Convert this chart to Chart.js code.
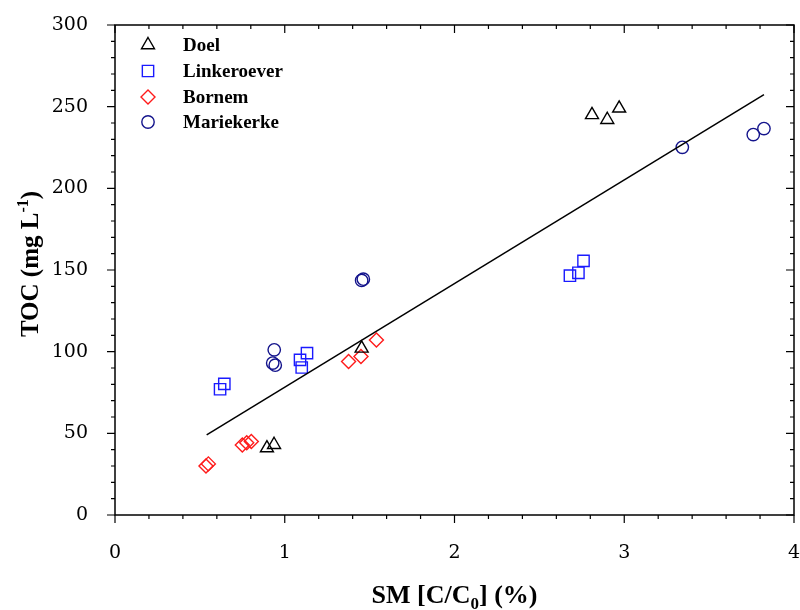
<!DOCTYPE html>
<html>
<head>
<meta charset="utf-8">
<script src="https://cdn.jsdelivr.net/npm/chart.js@4.4.1/dist/chart.umd.min.js"></script>
<style>
  html, body { margin: 0; padding: 0; background: #fff; }
  canvas { display: block; }
</style>
</head>
<body>
<canvas id="chart" width="800" height="610"></canvas>
<script>
// Site names
const seriesNames = ['Doel', 'Linkeroever', 'Bornem', 'Mariekerke'];

// SM [C/C0] (%) and TOC (mg/L) per site
const doelSM = [0.895, 0.937, 1.453, 2.81, 2.90, 2.97];
const doelTOC = [41, 43, 102, 245, 242, 249];

const linkeroeverSM = [0.619, 0.644, 1.09, 1.10, 1.131, 2.68, 2.73, 2.76];
const linkeroeverTOC = [77, 80.3, 95, 90.3, 99.1, 146.5, 148.3, 155.6];

const bornemSM = [0.536, 0.55, 0.75, 0.776, 0.803, 1.376, 1.449, 1.54];
const bornemTOC = [30, 31.3, 42.8, 44.2, 45, 94, 97, 107.2];

const mariekerkeSM = [0.938, 0.929, 0.944, 1.453, 1.463, 3.342, 3.76, 3.823];
const mariekerkeTOC = [101.1, 93, 91.7, 143.6, 144.4, 225.1, 232.9, 236.6];

// Linear fit, drawn between its two end points
const fitSM = [0.54, 3.823];
const fitTOC = [49.0, 257.4];

// Axis ticks
const xTicks = [0, 1, 2, 3, 4];
const yTicks = [0, 50, 100, 150, 200, 250, 300];
const xMinorStep = 0.2;
const yMinorStep = 10;

// Plot frame edges on the canvas
const frameBox = { left: 115, right: 794, top: 25, bottom: 515 };

const pts = (xs, ys) => xs.map((x, i) => ({ x: x, y: ys[i] }));

const markerStyles = [
  { pointStyle: 'triangle', radius: 7.5, color: '#000000' },
  { pointStyle: 'rect', radius: 8, color: '#1a1aff' },
  { pointStyle: 'rectRot', radius: 7, color: '#ff1a1a' },
  { pointStyle: 'circle', radius: 6.2, color: '#14148c' }
];
const seriesData = [
  pts(doelSM, doelTOC),
  pts(linkeroeverSM, linkeroeverTOC),
  pts(bornemSM, bornemTOC),
  pts(mariekerkeSM, mariekerkeTOC)
];

const datasets = seriesNames.map((name, i) => ({
  label: name,
  data: seriesData[i],
  pointStyle: markerStyles[i].pointStyle,
  pointRadius: markerStyles[i].radius,
  pointHoverRadius: markerStyles[i].radius,
  pointBorderColor: markerStyles[i].color,
  pointBackgroundColor: 'rgba(0,0,0,0)',
  pointBorderWidth: 1.4,
  showLine: false
}));
datasets.unshift({
  label: 'fit',
  type: 'line',
  data: pts(fitSM, fitTOC),
  borderColor: '#000',
  borderWidth: 1.5,
  pointRadius: 0,
  fill: false
});

// Frame with inward/outward major and minor ticks
const framePlugin = {
  id: 'frame',
  beforeDatasetsDraw(chart) {
    const { ctx, chartArea: a, scales: { x, y } } = chart;
    ctx.save();
    ctx.strokeStyle = '#000';
    ctx.lineWidth = 1.5;
    ctx.strokeRect(a.left, a.top, a.right - a.left, a.bottom - a.top);
    ctx.lineWidth = 1.2;
    ctx.beginPath();
    for (let v = 0; v <= 4.0001; v += xMinorStep) {
      const major = Math.abs(v - Math.round(v)) < 1e-6;
      const px = x.getPixelForValue(v);
      const len = major ? 8 : 4;
      ctx.moveTo(px, a.bottom); ctx.lineTo(px, a.bottom + len);
      ctx.moveTo(px, a.top); ctx.lineTo(px, a.top + len);
    }
    for (let v = 0; v <= 300.001; v += yMinorStep) {
      const major = Math.round(v) % 50 === 0;
      const py = y.getPixelForValue(v);
      const len = major ? 8 : 4;
      ctx.moveTo(a.left, py); ctx.lineTo(a.left - len, py);
      ctx.moveTo(a.right, py); ctx.lineTo(a.right - len, py);
    }
    ctx.stroke();
    ctx.restore();
  },
  afterDraw(chart) {
    const { ctx, chartArea: a } = chart;
    ctx.save();
    ctx.fillStyle = '#000';

    // Legend inside the plot
    const rows = [45, 71, 97, 122];
    chart.data.datasets.slice(1).forEach((ds, i) => {
      ctx.strokeStyle = ds.pointBorderColor;
      ctx.fillStyle = 'rgba(0,0,0,0)';
      ctx.lineWidth = ds.pointBorderWidth;
      Chart.helpers.drawPoint(ctx, {
        pointStyle: ds.pointStyle, radius: ds.pointRadius, rotation: 0, borderWidth: ds.pointBorderWidth
      }, 148, rows[i]);
      ctx.fillStyle = '#000';
      ctx.font = 'bold 19px "Liberation Serif"';
      ctx.textAlign = 'left';
      ctx.textBaseline = 'middle';
      ctx.fillText(ds.label, 183, rows[i] + 1);
    });

    // X axis title with subscript
    const big = 'bold 26px "Liberation Serif"';
    const small = 'bold 17px "Liberation Serif"';
    const parts = [['SM [C/C', big, 0], ['0', small, 6], ['] (%)', big, 0]];
    let total = 0;
    parts.forEach(p => { ctx.font = p[1]; total += ctx.measureText(p[0]).width; });
    let cx = (a.left + a.right) / 2 - total / 2;
    ctx.textAlign = 'left';
    ctx.textBaseline = 'alphabetic';
    parts.forEach(p => {
      ctx.font = p[1];
      ctx.fillText(p[0], cx, 603 + p[2]);
      cx += ctx.measureText(p[0]).width;
    });

    // Y axis title with superscript
    const bigY = 'bold 25px "Liberation Serif"';
    const smallY = 'bold 16px "Liberation Serif"';
    ctx.save();
    ctx.translate(38, (a.top + a.bottom) / 2 - 6);
    ctx.rotate(-Math.PI / 2);
    const yparts = [['TOC (mg L', bigY, 0], ['-1', smallY, -10], [')', bigY, 0]];
    total = 0;
    yparts.forEach(p => { ctx.font = p[1]; total += ctx.measureText(p[0]).width; });
    cx = -total / 2;
    yparts.forEach(p => {
      ctx.font = p[1];
      ctx.fillText(p[0], cx, p[2]);
      cx += ctx.measureText(p[0]).width;
    });
    ctx.restore();

    ctx.restore();
  }
};

// Pin the plotting area to fixed canvas edges
const areaPlugin = {
  id: 'area',
  afterLayout(chart) {
    const a = chart.chartArea;
    Object.assign(a, frameBox);
    a.width = a.right - a.left;
    a.height = a.bottom - a.top;
    const { x, y } = chart.scales;
    x.left = a.left; x.right = a.right; x.width = a.width;
    y.top = a.top; y.bottom = a.bottom; y.height = a.height;
    x.configure(); y.configure();
    x.top = a.bottom; x.bottom = a.bottom + 95;
    y.right = a.left; y.left = 0;
  }
};

new Chart(document.getElementById('chart'), {
  type: 'scatter',
  data: { datasets: datasets },
  plugins: [framePlugin, areaPlugin],
  options: {
    responsive: false,
    animation: false,
    layout: { padding: { left: 0, right: 2, top: 25, bottom: 0 } },
    plugins: { legend: { display: false }, tooltip: { enabled: false } },
    scales: {
      x: {
        type: 'linear', min: 0, max: 4,
        afterFit(s) { s.height = 95; s.paddingLeft = 0; s.paddingRight = 0; },
        afterBuildTicks(s) { s.ticks = xTicks.map(v => ({ value: v })); },
        grid: { display: false }, border: { display: false },
        ticks: { color: '#000', padding: 19, font: { family: 'DejaVu Serif', size: 19 } }
      },
      y: {
        type: 'linear', min: 0, max: 300,
        afterFit(s) { s.width = 115; s.paddingTop = 0; s.paddingBottom = 0; },
        afterBuildTicks(s) { s.ticks = yTicks.map(v => ({ value: v })); },
        grid: { display: false }, border: { display: false },
        ticks: { color: '#000', padding: 19, font: { family: 'DejaVu Serif', size: 19 } }
      }
    }
  }
});
</script>
</body>
</html>
